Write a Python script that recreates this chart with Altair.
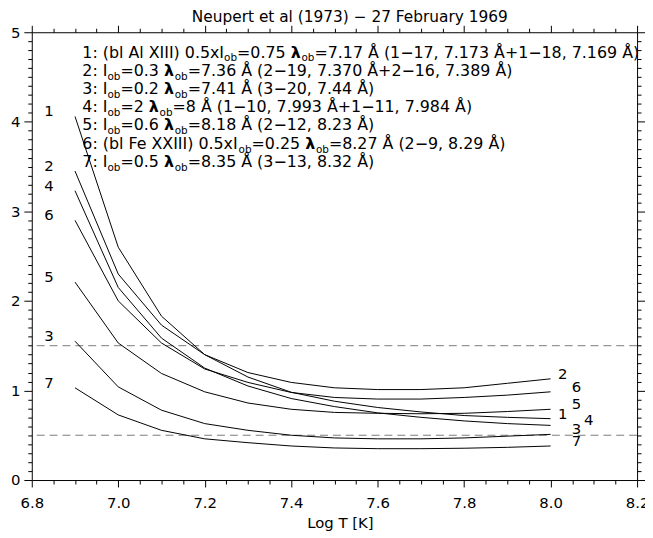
import altair as alt
import pandas as pd

# ---------------- data ----------------
log_t = [6.9, 7.0, 7.1, 7.2, 7.3, 7.4, 7.5, 7.6, 7.7, 7.8, 7.9, 8.0]
curve_1 = [4.06, 2.60, 1.83, 1.40, 1.15, 0.98, 0.88, 0.81, 0.76, 0.72, 0.70, 0.685]
curve_2 = [3.45, 2.30, 1.73, 1.40, 1.20, 1.09, 1.03, 1.01, 1.01, 1.03, 1.08, 1.13]
curve_3 = [1.55, 1.04, 0.78, 0.63, 0.555, 0.50, 0.47, 0.46, 0.46, 0.47, 0.49, 0.51]
curve_4 = [3.23, 2.15, 1.585, 1.25, 1.05, 0.91, 0.82, 0.75, 0.70, 0.66, 0.63, 0.61]
curve_5 = [2.21, 1.53, 1.19, 0.985, 0.86, 0.79, 0.755, 0.745, 0.74, 0.745, 0.765, 0.79]
curve_6 = [2.90, 2.00, 1.53, 1.24, 1.09, 0.978, 0.922, 0.904, 0.904, 0.922, 0.948, 0.985]
curve_7 = [1.03, 0.727, 0.555, 0.46, 0.417, 0.38, 0.358, 0.35, 0.35, 0.355, 0.365, 0.38]
curve_names = ["1", "2", "3", "4", "5", "6", "7"]
curves = [curve_1, curve_2, curve_3, curve_4, curve_5, curve_6, curve_7]

left_label_x = [6.84, 6.84, 6.84, 6.84, 6.84, 6.84, 6.84]
right_label_x = [8.028, 8.028, 8.06, 8.088, 8.06, 8.06, 8.06]

dashed_levels = [1.5, 0.5]

x_ticks = [round(6.8 + 0.05 * i, 2) for i in range(29)]
y_ticks = [round(0.1 * i, 1) for i in range(51)]

title_text = "Neupert et al (1973) \u2212 27 February 1969"
x_title = "Log T [K]"

legend_lines = [
    [("1: (bl Al XIII) 0.5xI", "n"), ("ob", "s"), ("=0.75 ", "n"), ("\u03bb", "b"), ("ob", "s"),
     ("=7.17 \u00c5 (1\u221217, 7.173 \u00c5+1\u221218, 7.169 \u00c5)", "n")],
    [("2: I", "n"), ("ob", "s"), ("=0.3 ", "n"), ("\u03bb", "b"), ("ob", "s"),
     ("=7.36 \u00c5 (2\u221219, 7.370 \u00c5+2\u221216, 7.389 \u00c5)", "n")],
    [("3: I", "n"), ("ob", "s"), ("=0.2 ", "n"), ("\u03bb", "b"), ("ob", "s"),
     ("=7.41 \u00c5 (3\u221220, 7.44 \u00c5)", "n")],
    [("4: I", "n"), ("ob", "s"), ("=2 ", "n"), ("\u03bb", "b"), ("ob", "s"),
     ("=8 \u00c5 (1\u221210, 7.993 \u00c5+1\u221211, 7.984 \u00c5)", "n")],
    [("5: I", "n"), ("ob", "s"), ("=0.6 ", "n"), ("\u03bb", "b"), ("ob", "s"),
     ("=8.18 \u00c5 (2\u221212, 8.23 \u00c5)", "n")],
    [("6: (bl Fe XXIII) 0.5xI", "n"), ("ob", "s"), ("=0.25 ", "n"), ("\u03bb", "b"), ("ob", "s"),
     ("=8.27 \u00c5 (2\u22129, 8.29 \u00c5)", "n")],
    [("7: I", "n"), ("ob", "s"), ("=0.5 ", "n"), ("\u03bb", "b"), ("ob", "s"),
     ("=8.35 \u00c5 (3\u221213, 8.32 \u00c5)", "n")],
]

# ---------------- layout / style ----------------
FONT = "DejaVu Sans"
W, H = 611, 452
FS = 16
SUB_FS = 10.5
LEG_X0 = 51          # relative to plot origin
LEG_Y0 = 25.5        # baseline of first line, relative to plot origin
LEG_DY = 18.4

# DejaVu Sans advance widths (units of 1/2048 em)
ADV = {" ": 651, "(": 799, ")": 799, "+": 1716, ",": 651, "-": 739, ".": 651,
       ":": 690, "=": 1716, "A": 1401, "F": 1178, "I": 604, "X": 1405, "b": 1300,
       "e": 1260, "l": 569, "o": 1253, "x": 1212, "\u00c5": 1401, "\u2212": 1716,
       "\u03bb": 1390}
for d in "0123456789":
    ADV[d] = 1303


def width(s, size):
    return sum(ADV.get(c, 1230) for c in s) / 2048.0 * size


rows = {"n": [], "s": [], "b": []}
for i, line in enumerate(legend_lines):
    x = LEG_X0
    yb = LEG_Y0 + i * LEG_DY
    for seg, kind in line:
        size = SUB_FS if kind == "s" else FS
        y = yb + (4 if kind == "s" else 0)
        rows[kind].append({"px": x, "py": y, "t": seg})
        x += width(seg, size)

x_scale = alt.Scale(domain=[6.8, 8.2], nice=False, zero=False)
y_scale = alt.Scale(domain=[0, 5], nice=False, zero=False)

x_major = "abs(datum.value*5 - round(datum.value*5)) < 0.001"
y_major = "abs(datum.value - round(datum.value)) < 0.001"

common = dict(grid=False, domainColor="black", tickColor="black", domainWidth=1,
              tickWidth=1, labelColor="black", labelFont=FONT, labelFontSize=15,
              labelOverlap=False, labelBound=False, labelFlush=False)

x_bottom = alt.Axis(orient="bottom", values=x_ticks,
                    labelExpr=f"{x_major} ? format(datum.value, '.1f') : ''",
                    tickSize={"condition": {"test": x_major, "value": 7}, "value": 4},
                    labelPadding=9, title=x_title, titleFont=FONT, titleFontSize=15,
                    titleFontWeight="normal", titleColor="black", titlePadding=5,
                    titleX=311, **common)
x_top = alt.Axis(orient="top", values=x_ticks, labels=False, title=None,
                 tickSize={"condition": {"test": x_major, "value": 7}, "value": 4},
                 **common)
y_left = alt.Axis(orient="left", values=y_ticks,
                  labelExpr=f"{y_major} ? format(datum.value, 'd') : ''",
                  tickSize={"condition": {"test": y_major, "value": 8}, "value": 4},
                  labelPadding=4, title=None, **common)
y_right = alt.Axis(orient="right", values=y_ticks, labels=False, title=None,
                   tickSize={"condition": {"test": y_major, "value": 8}, "value": 4},
                   **common)

line_df = pd.DataFrame([
    {"logT": t, "value": v, "curve": name}
    for name, vals in zip(curve_names, curves)
    for t, v in zip(log_t, vals)
])

lab_rows = []
for name, vals, lx, rx in zip(curve_names, curves, left_label_x, right_label_x):
    lab_rows.append({"lx": lx, "ly": vals[0], "label": name})
    lab_rows.append({"lx": rx, "ly": vals[-1], "label": name})
lab_df = pd.DataFrame(lab_rows)

lines = alt.Chart(line_df).mark_line(color="black", strokeWidth=1).encode(
    x=alt.X("logT:Q", scale=x_scale, axis=x_bottom),
    y=alt.Y("value:Q", scale=y_scale, axis=y_left),
    detail="curve:N",
)

dashed = alt.Chart(pd.DataFrame({"level": dashed_levels})).mark_rule(
    color="#7a7a7a", strokeDash=[8, 5], strokeWidth=1
).encode(y=alt.Y("level:Q", scale=y_scale, axis=y_right))

labels = alt.Chart(lab_df).mark_text(
    font=FONT, fontSize=15, color="black", align="center", baseline="alphabetic"
).encode(
    x=alt.X("lx:Q", scale=x_scale, axis=x_top),
    y=alt.Y("ly:Q", scale=y_scale, axis=None),
    text="label:N",
)


def seg_layer(kind, size, weight):
    return alt.Chart(pd.DataFrame(rows[kind])).mark_text(
        font=FONT, fontSize=size, fontWeight=weight, color="black",
        align="left", baseline="alphabetic"
    ).encode(
        x=alt.X("px:Q", scale=None, axis=None),
        y=alt.Y("py:Q", scale=None, axis=None),
        text="t:N",
    )


title = alt.Chart(pd.DataFrame({"px": [321], "py": [-15], "t": [title_text]})).mark_text(
    font=FONT, fontSize=15.5, color="black", align="center", baseline="middle"
).encode(
    x=alt.X("px:Q", scale=None, axis=None),
    y=alt.Y("py:Q", scale=None, axis=None),
    text="t:N",
)

chart = alt.layer(
    dashed, lines, labels,
    seg_layer("n", FS, "normal"), seg_layer("s", SUB_FS, "normal"), seg_layer("b", FS, "bold"),
    title,
).resolve_axis(x="independent", y="independent").properties(
    width=W, height=H,
    autosize=alt.AutoSizeParams(type="none"),
    padding={"left": 24, "top": 22, "right": 8, "bottom": 51},
    background="white",
).configure_view(stroke=None)

chart.save("out.html", embed_options={"renderer": "svg", "actions": False})
